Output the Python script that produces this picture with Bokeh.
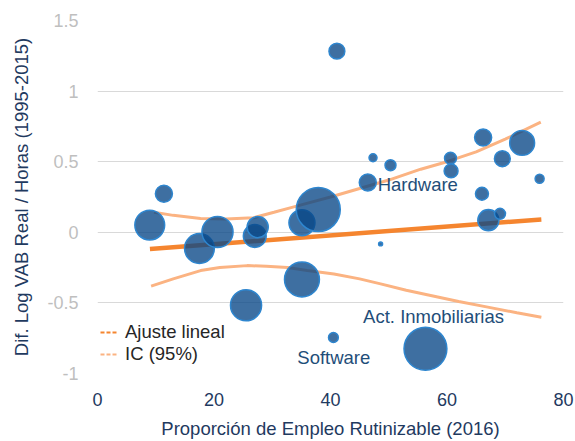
from bokeh.plotting import figure
from bokeh.models import ColumnDataSource, Range1d, FixedTicker, Legend, LegendItem
from bokeh.embed import file_html
from bokeh.resources import INLINE
from bokeh.core.properties import value
import numpy as np

# ---- data ----
rutinizable = [8.97, 11.4, 17.5, 20.6, 25.5, 27.0, 27.5, 35.1, 35.1, 37.9, 41.1, 40.5, 47.3,
               46.4, 50.3, 48.6, 56.3, 60.6, 60.7, 66.2, 66.0, 67.1, 69.1, 69.5, 72.9, 75.9]
dif_log_vab = [0.051, 0.273, -0.115, 0.002, -0.517, -0.026, 0.037, 0.068, -0.334, 0.161, 1.283,
               -0.745, 0.528, 0.353, 0.475, -0.082, -0.825, 0.524, 0.435, 0.671, 0.273, 0.086,
               0.131, 0.521, 0.633, 0.379]
peso = [46, 15, 46, 50, 50, 27, 23, 35, 63, 100, 13, 5, 3.3, 15, 6.2, 0.8, 95, 7.4, 10, 15,
        8.7, 23, 6.2, 13, 32, 4.2]

ajuste_x = [9.0, 76.2]
ajuste_y = [-0.119, 0.091]

ic_sup_x = [9.7, 13.0, 17.7, 22.0, 26.8, 30.3, 33.7, 40.0, 45.0, 50.0, 55.5, 60.0, 65.0, 70.0, 76.1]
ic_sup_y = [0.142, 0.12, 0.098, 0.095, 0.103, 0.142, 0.18, 0.25, 0.31, 0.37, 0.447, 0.50, 0.57, 0.66, 0.78]

ic_inf_x = [9.2, 13.0, 17.7, 21.0, 25.7, 29.0, 32.6, 36.0, 40.6, 45.0, 48.6, 53.0, 57.2, 62.0, 67.0, 72.0, 76.2]
ic_inf_y = [-0.381, -0.33, -0.271, -0.25, -0.236, -0.24, -0.25, -0.27, -0.295, -0.33, -0.365, -0.41,
            -0.447, -0.49, -0.53, -0.57, -0.601]

etiquetas = ["Hardware", "Act. Inmobiliarias", "Software"]
etiquetas_x = [48.1, 45.6, 34.3]
etiquetas_y = [0.342, -0.594, -0.884]

x_ticks = [0, 20, 40, 60, 80]
y_ticks = [-1, -0.5, 0, 0.5, 1, 1.5]
y_tick_labels = ["-1", "-0.5", "0", "0.5", "1", "1.5"]
x_title = "Proporción de Empleo Rutinizable (2016)"
y_title = "Dif. Log VAB Real / Horas (1995-2015)"

FONT = "Liberation Sans"
NAVY = "#1F3A5F"

p = figure(width=575, height=441, x_range=Range1d(0, 80), y_range=Range1d(-1, 1.5),
           output_backend="svg", toolbar_location=None,
           min_border_left=97, min_border_right=12, min_border_top=20, min_border_bottom=65)
p.outline_line_color = None
p.xgrid.grid_line_color = None
p.ygrid.grid_line_color = "#D9D9D9"
p.ygrid.grid_line_width = 1.2
p.ygrid.ticker = FixedTicker(ticks=y_ticks)

# axes
p.xaxis.ticker = FixedTicker(ticks=x_ticks)
p.yaxis.ticker = FixedTicker(ticks=y_ticks)
p.yaxis.major_label_overrides = {t: l for t, l in zip(y_ticks, y_tick_labels)}
for ax in (p.xaxis, p.yaxis):
    ax.axis_line_color = None
    ax.major_tick_line_color = None
    ax.minor_tick_line_color = None
    ax.major_label_text_font = FONT
    ax.major_label_text_font_size = "18px"
    ax.axis_label_text_font = FONT
    ax.axis_label_text_font_size = "18.5px"
    ax.axis_label_text_font_style = "normal"
    ax.axis_label_text_color = NAVY
p.xaxis.major_label_text_color = NAVY
p.yaxis.major_label_text_color = "#BFBFBF"
p.xaxis.axis_label = x_title
p.yaxis.axis_label = y_title
p.xaxis.major_label_standoff = 13
p.xaxis.axis_label_standoff = 9
p.yaxis.major_label_standoff = 13
p.yaxis.axis_label_standoff = 12

# lines
p.line(ic_sup_x, ic_sup_y, line_color="#FBB382", line_width=3)
p.line(ic_inf_x, ic_inf_y, line_color="#FBB382", line_width=3)
p.line(ajuste_x, ajuste_y, line_color="#F5852F", line_width=4.5)

# bubbles
diam = [4.4 * np.sqrt(w) for w in peso]
src = ColumnDataSource(dict(x=rutinizable, y=dif_log_vab, d=diam))
p.scatter("x", "y", size="d", source=src, fill_color="#084786", fill_alpha=0.78,
          line_color="#2E86CF", line_width=1.5)

# labels
tsrc = ColumnDataSource(dict(x=etiquetas_x, y=etiquetas_y, t=etiquetas))
p.text("x", "y", text="t", source=tsrc, text_font=value(FONT), text_font_size="18.5px",
       text_color="#1F4E79", text_align="left", text_baseline="middle")

# legend (dashed legend-only renderers)
r1 = p.line([np.nan, np.nan], [np.nan, np.nan], line_color="#F5852F", line_width=2, line_dash="4 2")
r2 = p.line([np.nan, np.nan], [np.nan, np.nan], line_color="#FBB382", line_width=2, line_dash="4 2")
leg = Legend(items=[LegendItem(label="Ajuste lineal", renderers=[r1]),
                    LegendItem(label="IC (95%)", renderers=[r2])],
             location=(3, 8), background_fill_alpha=0, border_line_alpha=0,
             glyph_width=17, glyph_height=18, label_standoff=8, spacing=-3, padding=0, margin=0,
             label_text_font=FONT, label_text_font_size="18.5px", label_text_color="#262626",
             label_height=20)
p.add_layout(leg, "center")

open("out.html", "w").write(file_html(p, INLINE))
